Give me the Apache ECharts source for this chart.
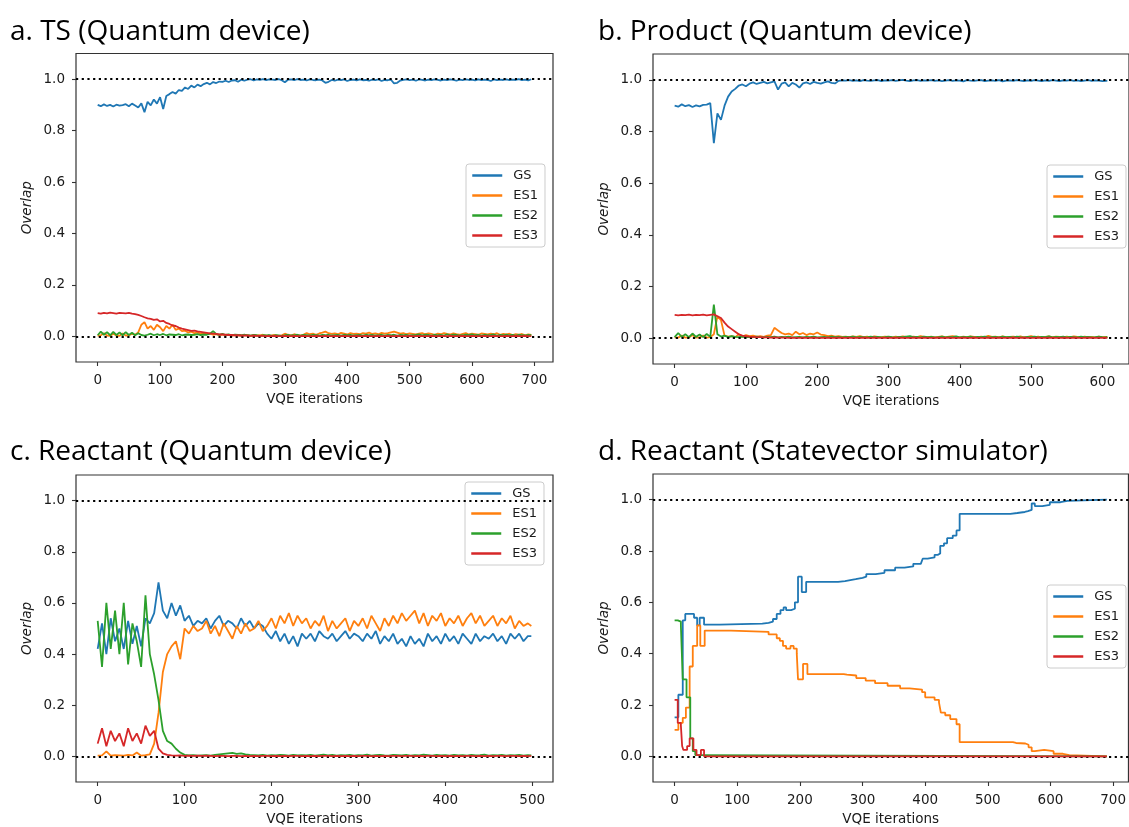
<!DOCTYPE html>
<html>
<head>
<meta charset="utf-8">
<script src="https://cdn.jsdelivr.net/npm/echarts@6/dist/echarts.min.js"></script>
<style>
  html, body { margin: 0; padding: 0; background: #fff; }
  #chart { width: 1129px; height: 827px; }
</style>
</head>
<body>
<div id="chart"></div>
<script>
// ---- shared labels ----
const seriesNames = ['GS', 'ES1', 'ES2', 'ES3'];
const seriesColors = ['#1f77b4', '#ff7f0e', '#2ca02c', '#d62728'];
const panelTitles = [
  'a. TS (Quantum device)',
  'b. Product (Quantum device)',
  'c. Reactant (Quantum device)',
  'd. Reactant (Statevector simulator)'
];
const yTicks = [0, 0.2, 0.4, 0.6, 0.8, 1.0];
const refLevels = [0, 1];
const xName = 'VQE iterations';
const yName = 'Overlap';

// ---- a. TS (quantum device): overlap sampled every 5 iterations, 0..695 ----
const stepA = 5;
const lastIterA = 695;
const xTicksA = [0, 100, 200, 300, 400, 500, 600, 700];
const gsA = [
  .900,.895,.902,.896,.900,.894,.901,.897,.899,.903,.895,.905,
  .898,.890,.906,.872,.912,.898,.921,.905,.930,.884,.935,.942,
  .950,.944,.958,.955,.968,.962,.975,.968,.979,.973,.981,.986,
  .980,.989,.985,.991,.990,.994,.989,.995,.996,.990,.998,.994,
  .998,1.000,.995,.999,.997,1.000,.996,.999,.998,.997,1.000,.996,
  .988,.998,.999,.996,1.000,.997,.998,.995,.999,.997,.996,.998,
  .995,.986,.990,.997,.994,.998,.996,.999,.993,.997,.998,.995,
  .999,.996,.997,.994,.998,.996,.999,.993,.997,.996,.998,.984,
  .986,.995,.997,.999,.996,.998,.994,.999,.997,.995,.998,.996,
  .999,.997,.995,.998,.996,.999,.997,.994,.998,.996,.999,.997,
  .998,.995,.999,.996,.998,.997,.993,.999,.996,.998,.997,.999,
  .996,.998,.997,1.000,.996,.998,.995,1.000
];
const es1A = [
  .002,.004,.012,.003,.002,.010,.003,.002,.011,.003,.004,.009,
  .006,.015,.045,.055,.030,.040,.025,.045,.035,.020,.040,.030,
  .045,.025,.030,.020,.022,.015,.018,.012,.015,.010,.012,.008,
  .010,.006,.008,.005,.007,.004,.006,.003,.005,.004,.003,.005,
  .004,.002,.005,.003,.004,.006,.003,.002,.004,.005,.002,.004,
  .010,.006,.004,.008,.005,.003,.007,.012,.008,.010,.006,.011,
  .014,.018,.012,.009,.011,.008,.013,.010,.007,.012,.009,.010,
  .008,.012,.010,.014,.009,.011,.008,.013,.010,.012,.015,.018,
  .014,.010,.012,.008,.011,.009,.007,.010,.012,.008,.011,.009,
  .006,.010,.008,.012,.009,.007,.011,.008,.006,.009,.012,.007,
  .010,.008,.006,.011,.009,.007,.010,.008,.012,.006,.009,.007,
  .010,.005,.008,.006,.009,.004,.007,.005
];
const es2A = [
  .004,.018,.006,.016,.004,.017,.005,.015,.004,.016,.005,.014,
  .004,.012,.005,.003,.006,.010,.004,.008,.005,.009,.004,.007,
  .006,.005,.008,.004,.006,.007,.005,.006,.008,.005,.007,.006,
  .010,.020,.008,.006,.009,.005,.007,.004,.006,.005,.004,.006,
  .004,.003,.005,.004,.002,.004,.003,.005,.002,.004,.003,.002,
  .004,.005,.003,.004,.006,.003,.005,.004,.003,.006,.004,.003,
  .005,.004,.006,.003,.004,.005,.003,.006,.004,.005,.003,.004,
  .005,.003,.006,.004,.005,.003,.004,.006,.003,.005,.004,.006,
  .003,.005,.004,.006,.003,.004,.005,.007,.004,.006,.005,.003,
  .006,.004,.005,.003,.008,.004,.006,.005,.003,.004,.006,.005,
  .007,.004,.005,.003,.006,.004,.005,.007,.003,.005,.004,.006,
  .004,.005,.003,.006,.004,.003,.005,.004
];
const es3A = [
  .090,.088,.091,.089,.092,.090,.088,.091,.090,.089,.091,.088,
  .086,.083,.079,.074,.070,.068,.064,.066,.058,.060,.052,.048,
  .042,.040,.034,.030,.027,.024,.021,.022,.019,.017,.015,.013,
  .011,.010,.009,.007,.007,.006,.005,.005,.004,.004,.003,.003,
  .003,.002,.003,.002,.002,.002,.001,.002,.001,.002,.001,.001,
  .002,.001,.001,.002,.001,.001,.002,.001,.001,.001,.002,.001,
  .001,.002,.001,.001,.002,.001,.001,.002,.001,.001,.001,.002,
  .001,.001,.002,.001,.001,.001,.002,.001,.001,.002,.001,.001,
  .002,.001,.001,.001,.002,.001,.001,.002,.001,.001,.001,.002,
  .001,.001,.002,.001,.001,.002,.001,.001,.001,.002,.001,.001,
  .002,.001,.001,.001,.002,.001,.001,.002,.001,.001,.001,.002,
  .001,.001,.002,.001,.001,.002,.001,.001
];

// ---- b. Product (quantum device): every 5 iterations, 0..607 ----
const stepB = 5;
const lastIterB = 607;
const xTicksB = [0, 100, 200, 300, 400, 500, 600];
const gsB = [
  .900,.896,.905,.898,.902,.895,.901,.897,.903,.904,.910,.755,
  .870,.845,.900,.935,.955,.965,.978,.982,.975,.985,.990,.984,
  .988,.992,.986,.990,.994,.962,.985,.990,.975,.988,.982,.970,
  .986,.990,.984,.992,.988,.985,.990,.994,.988,.986,.996,.998,
  .997,.999,.996,.998,.995,.999,.997,.996,.998,.999,.995,.998,
  .997,.999,.996,.998,1.000,.997,.995,.998,.999,.996,.998,.997,
  .999,.996,.998,.995,.997,.999,.996,.998,.997,.994,.999,.997,
  .996,.998,.999,.995,.997,.998,.996,.999,.994,.997,.998,.996,
  .999,.997,.995,.998,.996,.999,.997,.995,.998,.996,.999,.997,
  .995,.998,.997,.999,.996,.998,.995,.997,.999,.996,.998,.997,
  .995,.996,.997
];
const es1B = [
  .003,.002,.010,.002,.003,.012,.002,.003,.010,.002,.004,.015,
  .085,.070,.010,.006,.008,.004,.015,.006,.012,.008,.010,.006,
  .008,.005,.010,.012,.040,.030,.020,.015,.018,.012,.025,.015,
  .020,.012,.018,.015,.022,.014,.012,.008,.010,.006,.008,.005,
  .006,.004,.007,.005,.008,.004,.006,.003,.007,.005,.004,.006,
  .005,.003,.006,.004,.007,.005,.003,.006,.004,.008,.005,.004,
  .006,.003,.005,.007,.004,.006,.008,.005,.003,.006,.004,.007,
  .005,.003,.006,.004,.009,.005,.006,.003,.007,.004,.005,.006,
  .004,.007,.003,.005,.008,.004,.006,.003,.005,.007,.004,.006,
  .005,.003,.006,.004,.007,.005,.003,.006,.004,.005,.003,.006,
  .004,.005,.004
];
const es2B = [
  .004,.020,.005,.015,.004,.018,.005,.014,.004,.016,.005,.130,
  .015,.006,.010,.004,.008,.005,.004,.006,.003,.005,.004,.006,
  .004,.003,.005,.004,.006,.003,.005,.004,.006,.003,.004,.005,
  .003,.005,.004,.006,.003,.004,.005,.003,.006,.004,.005,.003,
  .005,.004,.006,.003,.005,.004,.003,.006,.004,.005,.003,.004,
  .006,.004,.003,.005,.004,.006,.008,.004,.005,.003,.006,.004,
  .005,.003,.004,.006,.003,.005,.004,.007,.003,.005,.004,.006,
  .003,.005,.004,.006,.003,.004,.005,.003,.006,.004,.005,.003,
  .006,.004,.003,.005,.004,.006,.003,.005,.004,.007,.003,.005,
  .004,.006,.003,.005,.004,.003,.006,.004,.005,.003,.004,.006,
  .004,.003,.005
];
const es3B = [
  .090,.088,.090,.089,.091,.088,.090,.089,.091,.088,.090,.092,
  .085,.078,.060,.045,.035,.025,.015,.010,.008,.006,.005,.004,
  .004,.003,.003,.002,.003,.002,.002,.002,.001,.002,.001,.001,
  .002,.001,.001,.002,.001,.001,.001,.002,.001,.001,.002,.001,
  .001,.002,.001,.001,.001,.002,.001,.001,.002,.001,.001,.001,
  .002,.001,.001,.002,.001,.001,.001,.002,.001,.001,.002,.001,
  .001,.001,.002,.001,.001,.002,.001,.001,.001,.002,.001,.001,
  .002,.001,.001,.001,.002,.001,.001,.002,.001,.001,.001,.002,
  .001,.001,.002,.001,.001,.001,.002,.001,.001,.002,.001,.001,
  .001,.002,.001,.001,.002,.001,.001,.001,.002,.001,.001,.002,
  .001,.001,.001
];

// ---- c. Reactant (quantum device): every 5 iterations, 0..499 ----
const stepC = 5;
const lastIterC = 499;
const xTicksC = [0, 100, 200, 300, 400, 500];
const gsC = [
  .42,.52,.40,.54,.45,.50,.42,.53,.44,.51,.43,.54,
  .52,.56,.68,.57,.54,.60,.55,.59,.53,.55,.51,.53,
  .52,.54,.50,.53,.55,.51,.53,.52,.50,.54,.51,.53,
  .50,.52,.51,.48,.46,.49,.45,.48,.44,.47,.43,.48,
  .46,.48,.45,.49,.47,.46,.48,.45,.47,.49,.46,.48,
  .47,.45,.48,.46,.49,.44,.47,.45,.48,.44,.46,.43,
  .47,.44,.46,.43,.48,.45,.47,.44,.48,.45,.47,.44,
  .48,.46,.44,.48,.45,.47,.46,.48,.45,.47,.44,.48,
  .46,.48,.45,.47,.47
];
const es1C = [
  .003,.004,.020,.003,.005,.004,.003,.006,.004,.015,.003,.005,
  .008,.050,.170,.330,.400,.430,.450,.380,.500,.480,.510,.490,
  .500,.530,.480,.510,.470,.520,.490,.460,.510,.480,.520,.490,
  .500,.530,.490,.510,.540,.500,.550,.520,.560,.510,.550,.520,
  .540,.500,.530,.510,.550,.490,.530,.500,.520,.540,.490,.530,
  .510,.540,.500,.550,.520,.490,.540,.510,.550,.520,.560,.530,
  .550,.570,.520,.560,.510,.550,.530,.560,.510,.540,.520,.550,
  .510,.540,.560,.520,.550,.510,.530,.550,.510,.540,.520,.550,
  .500,.530,.510,.520,.510
];
const es2C = [
  .53,.35,.60,.42,.57,.40,.60,.36,.52,.45,.35,.63,
  .40,.32,.22,.10,.06,.05,.03,.015,.006,.004,.005,.003,
  .004,.005,.003,.006,.008,.010,.012,.014,.010,.012,.008,.006,
  .005,.004,.006,.003,.005,.004,.006,.005,.003,.006,.004,.005,
  .004,.006,.003,.005,.007,.004,.006,.003,.005,.004,.006,.003,
  .005,.004,.007,.003,.005,.006,.004,.003,.006,.005,.004,.006,
  .003,.005,.004,.007,.005,.003,.006,.004,.005,.003,.006,.004,
  .005,.003,.006,.004,.005,.007,.003,.005,.004,.006,.003,.005,
  .004,.006,.003,.005,.004
];
const es3C = [
  .05,.11,.04,.10,.06,.09,.04,.11,.06,.09,.05,.12,
  .08,.10,.03,.012,.006,.004,.003,.004,.002,.003,.002,.003,
  .002,.003,.002,.001,.002,.002,.001,.002,.002,.001,.002,.001,
  .002,.001,.002,.002,.001,.002,.001,.002,.001,.002,.002,.001,
  .002,.001,.002,.001,.002,.002,.001,.002,.001,.002,.001,.002,
  .001,.002,.002,.001,.002,.001,.002,.001,.002,.002,.001,.002,
  .002,.001,.002,.001,.002,.002,.001,.002,.001,.002,.001,.002,
  .001,.002,.002,.001,.002,.001,.002,.001,.002,.002,.001,.002,
  .002,.001,.002,.001,.002
];

// ---- d. Reactant (statevector simulator): [iteration, overlap] at each change ----
const lastIterD = 690;
const xTicksD = [0, 100, 200, 300, 400, 500, 600, 700];
const gsD = [
  [0,.152],[6,.24],[13,.53],[17,.555],[31,.54],[36,.51],[40,.54],[47,.513],
  [72,.517],[140,.52],[150,.525],[157,.535],[163,.555],[169,.57],[174,.58],
  [178,.57],[186,.575],[192,.60],[197,.70],[203,.64],[210,.68],[261,.683],
  [272,.69],[289,.695],[300,.70],[306,.71],[321,.715],[335,.725],[352,.735],
  [367,.74],[381,.75],[393,.755],[396,.77],[404,.775],[415,.785],[420,.79],
  [424,.82],[430,.83],[435,.85],[444,.86],[450,.88],[455,.945],[536,.948],
  [547,.952],[559,.955],[564,.96],[570,.985],[575,.975],[587,.98],[599,.99],
  [616,.995],[627,1.0],[690,1.0]
];
const es1D = [
  [0,.103],[6,.13],[13,.15],[18,.19],[24,.35],[29,.43],[36,.51],[41,.43],
  [48,.49],[90,.485],[150,.475],[163,.46],[168,.45],[173,.43],[178,.42],
  [185,.43],[190,.42],[195,.40],[197,.30],[205,.36],[212,.32],[270,.318],
  [275,.315],[290,.305],[305,.295],[320,.285],[340,.275],[360,.265],
  [375,.26],[395,.25],[400,.23],[415,.22],[422,.21],[425,.17],[432,.16],
  [440,.145],[450,.125],[455,.055],[540,.052],[545,.05],[560,.045],
  [565,.035],[570,.02],[575,.025],[590,.02],[605,.01],[620,.005],[630,0],[690,0]
];
const es2D = [
  [0,.53],[5,.525],[10,.51],[13,.30],[19,.23],[25,.07],[29,.02],[33,.005],[37,0],[690,0]
];
const es3D = [
  [0,.22],[5,.13],[10,.12],[12,.04],[14,.025],[20,.04],[24,.07],[30,.025],
  [35,.005],[42,.025],[47,0],[690,0]
];

// ---- assembling ----
function sampled(values, step, lastIter) {
  return values.map((v, i) => [Math.min(i * step, lastIter), v]);
}

const panelData = [
  { last: lastIterA, ticks: xTicksA, stepped: false,
    lines: [gsA, es1A, es2A, es3A].map(v => sampled(v, stepA, lastIterA)) },
  { last: lastIterB, ticks: xTicksB, stepped: false,
    lines: [gsB, es1B, es2B, es3B].map(v => sampled(v, stepB, lastIterB)) },
  { last: lastIterC, ticks: xTicksC, stepped: false,
    lines: [gsC, es1C, es2C, es3C].map(v => sampled(v, stepC, lastIterC)) },
  { last: lastIterD, ticks: xTicksD, stepped: true,
    lines: [gsD, es1D, es2D, es3D] }
];

// layout of the 2x2 figure
const gridBoxes = [
  { left: 76,  top: 53.5, width: 477, height: 308.5 },
  { left: 653, top: 54,   width: 477, height: 310 },
  { left: 76,  top: 475,  width: 477, height: 309 },
  { left: 653, top: 474,  width: 477, height: 310 }
];
const legendBoxes = [
  { left: 466, top: 164 },
  { left: 1047, top: 165 },
  { left: 465, top: 482 },
  { left: 1047, top: 585 }
];
const titleBoxes = [
  { left: 10, top: 18 },
  { left: 598, top: 18 },
  { left: 10, top: 438 },
  { left: 598, top: 438 }
];

const tickFont = { fontFamily: 'DejaVu Sans', fontSize: 13.5, color: '#1a1a1a' };

const grid = [], xAxis = [], yAxis = [], series = [], legend = [], graphic = [];

panelData.forEach((p, i) => {
  grid.push(Object.assign({
    show: true, borderColor: '#333', borderWidth: 1.2,
    backgroundColor: 'transparent', containLabel: false
  }, gridBoxes[i]));

  const pad = p.last * 0.05;
  xAxis.push({
    gridIndex: i, type: 'value', min: -pad, max: p.last + pad,
    axisLine: { show: false, onZero: false }, splitLine: { show: false },
    axisTick: { show: true, customValues: p.ticks, length: 4, lineStyle: { color: '#333', width: 1.1 } },
    axisLabel: Object.assign({ customValues: p.ticks, margin: 11 }, tickFont),
    name: xName, nameLocation: 'middle', nameGap: 30,
    nameTextStyle: Object.assign({}, tickFont)
  });
  yAxis.push({
    gridIndex: i, type: 'value', min: -0.1, max: 1.1,
    axisLine: { show: false, onZero: false }, splitLine: { show: false },
    axisTick: { show: true, customValues: yTicks, length: 4, lineStyle: { color: '#333', width: 1.1 } },
    axisLabel: Object.assign({ customValues: yTicks, margin: 11, formatter: v => v.toFixed(1) }, tickFont),
    name: yName, nameLocation: 'middle', nameGap: 42,
    nameTextStyle: Object.assign({ fontStyle: 'italic' }, tickFont)
  });

  p.lines.forEach((data, k) => {
    series.push({
      type: 'line', name: seriesNames[k], xAxisIndex: i, yAxisIndex: i,
      data: data, symbol: 'none', showSymbol: false,
      step: p.stepped ? 'end' : false,
      color: seriesColors[k],
      lineStyle: { width: 1.8, color: seriesColors[k] },
      emphasis: { disabled: true }, z: 2 + k
    });
  });

  // dotted reference lines at overlap 0 and 1
  series.push({
    type: 'line', xAxisIndex: i, yAxisIndex: i, data: [], z: 10,
    markLine: {
      silent: true, symbol: ['none', 'none'], label: { show: false },
      lineStyle: { color: '#000', width: 2.2, type: [2.2, 3.5] },
      emphasis: { disabled: true },
      data: refLevels.map(v => ({ yAxis: v }))
    }
  });

  legend.push({
    data: seriesNames, orient: 'vertical', left: legendBoxes[i].left, top: legendBoxes[i].top,
    itemWidth: 30, itemHeight: 14, itemGap: 7, padding: [5, 7, 5, 5],
    backgroundColor: 'rgba(255,255,255,0.85)', borderColor: '#cccccc', borderWidth: 1, borderRadius: 3,
    selectedMode: false, lineStyle: { width: 2.5 }, itemStyle: { opacity: 0 },
    textStyle: { fontFamily: 'DejaVu Sans', fontSize: 13, color: '#1a1a1a', padding: [0, 0, 0, 6] }
  });

  graphic.push({
    type: 'text', left: titleBoxes[i].left, top: titleBoxes[i].top, silent: true,
    style: { text: panelTitles[i], font: '28px "Open Sans"', fill: '#000' }
  });
});

const chart = echarts.init(document.getElementById('chart'), null, { renderer: 'canvas' });
chart.setOption({
  animation: false,
  backgroundColor: '#ffffff',
  grid, xAxis, yAxis, series, legend, graphic
});
</script>
</body>
</html>
